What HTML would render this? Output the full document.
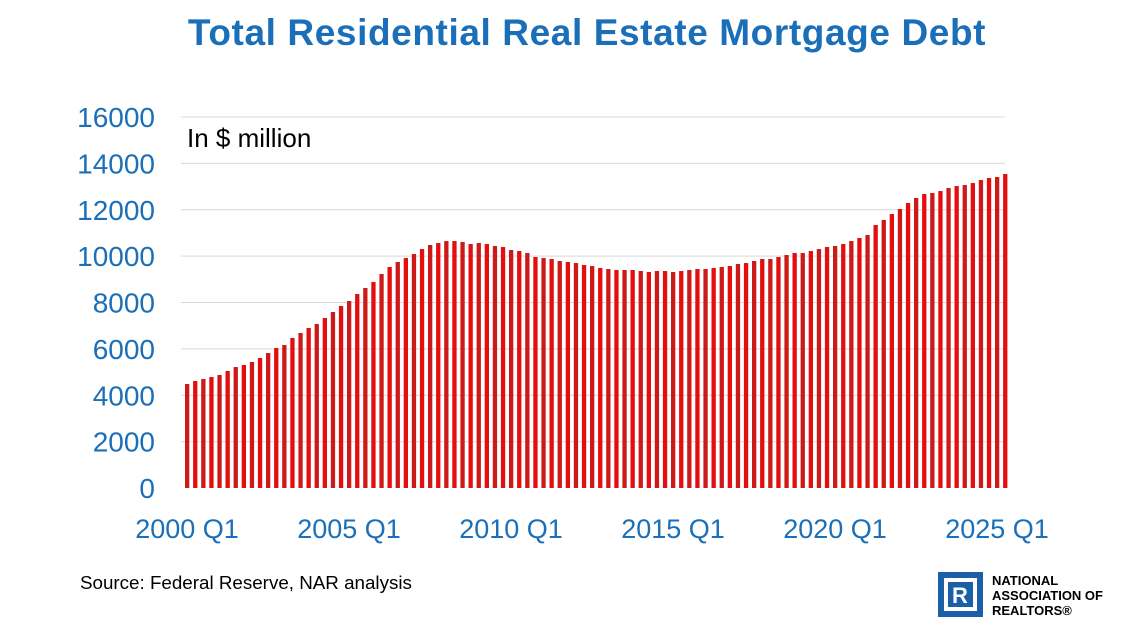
<!DOCTYPE html>
<html><head><meta charset="utf-8"><style>
body{margin:0;width:1131px;height:625px;background:#fff;overflow:hidden;font-family:"Liberation Sans",sans-serif}
</style></head><body>
<svg width="1131" height="625">
<text x="587" y="45" text-anchor="middle" font-size="37" font-weight="bold" letter-spacing="0.6" fill="#1a6fb8">Total Residential Real Estate Mortgage Debt</text>
<g id="grid"></g>
<g id="yticks"></g>
<g id="bars"></g>
<g id="xticks"></g>
<text x="187" y="147" font-size="26" fill="#000">In $ million</text>
<text x="80" y="589" font-size="18.8" fill="#000">Source: Federal Reserve, NAR analysis</text>
<g>
<rect x="938" y="572" width="45" height="45" fill="#1a5fa8"/>
<rect x="944" y="578" width="33" height="33" fill="#fff"/>
<rect x="948" y="582" width="25" height="25" fill="#1a5fa8"/>
<text x="960" y="603" text-anchor="middle" font-size="22" font-weight="bold" fill="#fff">R</text>
<text x="992" y="585" font-size="13" font-weight="bold" fill="#000">NATIONAL</text>
<text x="992" y="600" font-size="13" font-weight="bold" fill="#000">ASSOCIATION OF</text>
<text x="992" y="615" font-size="13" font-weight="bold" fill="#000">REALTORS®</text>
</g>
</svg>
<script>
const values=[4485,4614,4700,4786,4873,5045,5218,5304,5433,5606,5821,6037,6166,6468,6684,6900,7072,7331,7590,7848,8064,8366,8624,8883,9228,9530,9746,9918,10091,10306,10479,10565,10651,10651,10608,10522,10565,10522,10436,10393,10263,10220,10134,9961,9918,9875,9789,9746,9702,9616,9573,9487,9444,9401,9401,9401,9358,9314,9358,9358,9314,9358,9401,9444,9444,9487,9530,9573,9659,9702,9789,9875,9875,9961,10048,10134,10134,10220,10306,10393,10436,10522,10651,10781,10910,11341,11557,11815,12031,12290,12505,12678,12721,12807,12937,13023,13066,13152,13282,13368,13411,13540];
const yTicks=[0,2000,4000,6000,8000,10000,12000,14000,16000];
const xLabels=["2000 Q1","2005 Q1","2010 Q1","2015 Q1","2020 Q1","2025 Q1"];
const xLabelIdx=[0,20,40,60,80,100];
const NS="http://www.w3.org/2000/svg";
const y0=488,yTop=117,yMax=16000,x0=185,step=8.1,bw=4.3;
const yS=v=>y0-(v/yMax)*(y0-yTop);
const xS=i=>x0+i*step;
const grid=document.getElementById('grid'),yt=document.getElementById('yticks'),bars=document.getElementById('bars'),xt=document.getElementById('xticks');
yTicks.forEach(t=>{
  if(t>0){const l=document.createElementNS(NS,'line');
  l.setAttribute('x1',181);l.setAttribute('x2',1005);l.setAttribute('y1',yS(t));l.setAttribute('y2',yS(t));
  l.setAttribute('stroke','#d9d9d9');l.setAttribute('stroke-width','1');
  
  
  grid.appendChild(l);}
  const tx=document.createElementNS(NS,'text');
  tx.setAttribute('x',155);tx.setAttribute('y',yS(t)+10);tx.setAttribute('text-anchor','end');
  tx.setAttribute('font-size','28');tx.setAttribute('fill','#1a6fb8');tx.textContent=t;
  
  
  yt.appendChild(tx);
});
values.forEach((v,i)=>{
  const r=document.createElementNS(NS,'rect');
  r.setAttribute('x',xS(i));r.setAttribute('y',yS(v));r.setAttribute('width',bw);r.setAttribute('height',y0-yS(v));
  r.setAttribute('fill',i%2?'#e50e0e':'#cc1a1a');
  
  
  bars.appendChild(r);
});
xLabels.forEach((s,k)=>{
  const tx=document.createElementNS(NS,'text');
  tx.setAttribute('x',xS(xLabelIdx[k])+2);tx.setAttribute('y',538);tx.setAttribute('text-anchor','middle');
  tx.setAttribute('font-size','27');tx.setAttribute('fill','#1a6fb8');tx.textContent=s;
  
  
  xt.appendChild(tx);
});
</script>
</body></html>
